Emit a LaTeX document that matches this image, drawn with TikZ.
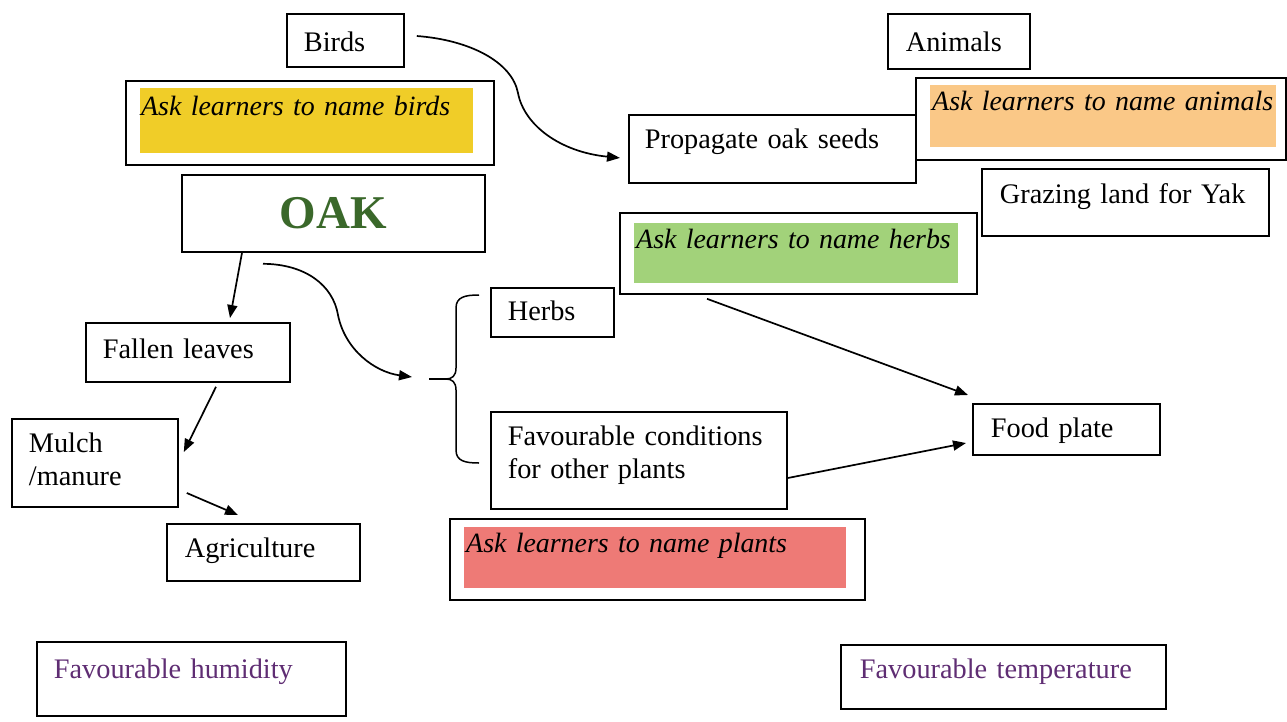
\documentclass[tikz,border=0pt]{standalone}
\usepackage{fontspec}
\setmainfont{Liberation Serif}
\usetikzlibrary{arrows.meta,calc}
\definecolor{yellowc}{RGB}{240,205,40}
\definecolor{orangec}{RGB}{250,200,135}
\definecolor{greenc}{RGB}{162,210,122}
\definecolor{redc}{RGB}{238,122,118}
\definecolor{purplec}{RGB}{95,45,115}
\definecolor{oakgreen}{RGB}{58,104,42}
\begin{document}
\begin{tikzpicture}[x=1pt,y=-1pt,
  bx/.style={draw, line width=1.8pt, anchor=north west, inner ysep=0pt, align=left,
    font=\fontsize{28.3}{33}\selectfont},
  fillbx/.style={anchor=north west, inner ysep=0pt, align=left,
    font=\fontsize{27.9}{33}\selectfont\itshape},
  arr/.style={line width=1.7pt, -{Triangle[length=13pt,width=10pt]}},
  bracestyle/.style={line width=1.5pt},
]
\useasboundingbox (0,0) rectangle (1287,721);

% plain boxes
\node[bx, inner xsep=17pt, text width=83pt, text height=38pt, text depth=15pt] (birds) at (286,13) {Birds};
\node[bx, inner xsep=18pt, text width=106pt, text height=37.5pt, text depth=17.5pt] (animals) at (887,13) {Animals};
\node[bx, inner xsep=16pt, text width=255pt, text height=34pt, text depth=34pt] (propagate) at (628,114) {Propagate oak seeds};
\node[bx, inner xsep=0pt, text width=303pt, text height=54pt, text depth=23pt, align=center,
  font=\fontsize{47}{50}\selectfont\bfseries, text=oakgreen] (oak) at (181,174) {OAK};
\node[bx, inner xsep=18pt, text width=251pt, text height=35pt, text depth=32pt] (grazing) at (981,168) {\mbox{Grazing land for Yak}};
\node[bx, inner xsep=17pt, text width=89pt, text height=33pt, text depth=16pt] (herbs) at (490,287) {Herbs};
\node[bx, inner xsep=17pt, text width=170pt, text height=36pt, text depth=23pt] (fallen) at (85,322) {Fallen leaves};
\node[bx, inner xsep=18pt, text width=151pt, text height=34pt, text depth=17pt] (food) at (972,403) {Food plate};
\node[bx, inner xsep=17pt, text width=262pt, text height=34pt, text depth=63pt] (favcond) at (490,411) {\mbox{Favourable conditions}\\for other plants};
\node[bx, inner xsep=17pt, text width=132pt, text height=34pt, text depth=54pt] (mulch) at (11,418) {Mulch\\/manure};
\node[bx, inner xsep=18pt, text width=157pt, text height=34pt, text depth=23pt] (agri) at (166,523) {Agriculture};
\node[bx, inner xsep=17pt, text width=275pt, text height=37pt, text depth=37pt, text=purplec] (humidity) at (36,641) {Favourable humidity};
\node[bx, inner xsep=19pt, text width=287pt, text height=34pt, text depth=30pt, text=purplec] (temperature) at (840,644) {\mbox{Favourable temperature}};

% ask boxes
\node[bx, inner xsep=0pt, text width=368pt, text height=84pt, text depth=0pt] (askbirds) at (125,80) {};
\node[fillbx, fill=yellowc, inner xsep=1pt, text width=331pt, text height=27pt, text depth=38pt] (askbirdsfill) at (140,88) {\mbox{Ask learners to name birds}};
\node[bx, inner xsep=0pt, text width=370pt, text height=82pt, text depth=0pt] (askanimals) at (915,77) {};
\node[fillbx, fill=orangec, inner xsep=2pt, text width=342pt, text height=25pt, text depth=37pt] (askanimalsfill) at (930,85) {\mbox{Ask learners to name animals}};
\node[bx, inner xsep=0pt, text width=357pt, text height=81pt, text depth=0pt] (askherbs) at (619,212) {};
\node[fillbx, fill=greenc, inner xsep=2pt, text width=320pt, text height=25pt, text depth=35pt] (askherbsfill) at (634,223) {\mbox{Ask learners to name herbs}};
\node[bx, inner xsep=0pt, text width=415pt, text height=81pt, text depth=0pt] (askplants) at (449,518) {};
\node[fillbx, fill=redc, inner xsep=2pt, text width=378pt, text height=25pt, text depth=36pt] (askplantsfill) at (464,527) {\mbox{Ask learners to name plants}};

% brace
\coordinate (bracetip) at (429,379);
\draw[bracestyle] (479,295) .. controls (465,295) and (456,297) .. (456,308) -- (456,368)
  .. controls (456,376) and (452,379) .. (446,379)
  .. controls (452,379) and (456,382) .. (456,390) -- (456,450)
  .. controls (456,461) and (465,463) .. (479,463);
\draw[line width=2.2pt] (bracetip) -- (447,379);

% connectors
\draw[arr] ($(birds.north east)+(12,23)$) .. controls (470,40) and (512,62) .. (518,93)
  .. controls (524,125) and (560,152) .. ($(propagate.west)+(-8,9)$);
\draw[arr] ($(oak.south west)+(61,0)$) -- ($(fallen.north west)+(145,-4)$);
\draw[arr] ($(oak.south west)+(82,11)$) .. controls (305,264) and (333,285) .. (338,315)
  .. controls (345,350) and (375,372) .. ($(bracetip)+(-17,-2)$);
\draw[arr] ($(fallen.south west)+(131,4)$) -- ($(mulch.north east)+(5,34)$);
\draw[arr] ($(mulch.north east)+(8,75)$) -- ($(agri.north west)+(72,-8)$);
\draw[arr] ($(askherbs.south west)+(88,4)$) -- ($(food.north west)+(-4,-8)$);
\draw[arr] ($(favcond.north east)+(0,67)$) -- ($(food.north west)+(-6,40)$);
\end{tikzpicture}
\end{document}
